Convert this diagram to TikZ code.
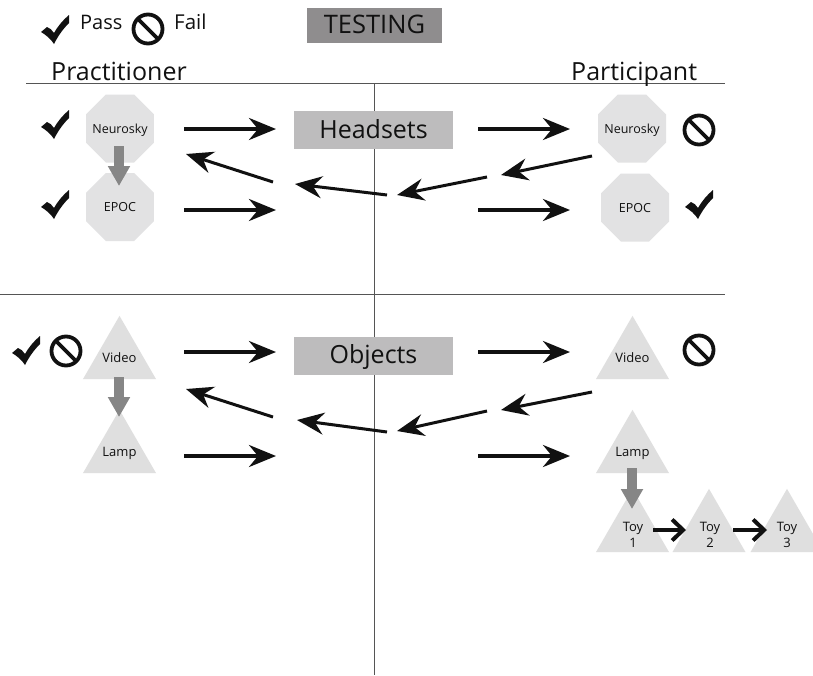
\documentclass[tikz,border=0pt]{standalone}
\usepackage{fontspec}
\setmainfont{Open Sans}
\usetikzlibrary{shapes.geometric,arrows.meta}
\definecolor{octfill}{HTML}{E2E2E3}
\definecolor{trifill}{HTML}{DFDFDF}
\definecolor{boxfill}{HTML}{BDBCBD}
\definecolor{greyarrow}{HTML}{868686}
\definecolor{testfill}{HTML}{8F8D8E}
\definecolor{rulecol}{HTML}{555555}
\definecolor{ink}{HTML}{111111}
\newcommand{\fittext}[1]{\makebox[0pt]{\raisebox{-4.5pt}[0pt][0pt]{#1}}}
\tikzset{
  x=1pt,y=-1pt,
  octa/.style={regular polygon,regular polygon sides=8,minimum size=73.6pt,inner sep=0pt,fill=octfill,font=\fontsize{12.5}{15}\selectfont,text=ink},
  tri/.style={regular polygon,regular polygon sides=3,minimum size=84.3pt,inner sep=0pt,fill=trifill,font=\fontsize{13}{15}\selectfont,text=ink},
  labelbox/.style={fill=boxfill,minimum width=159pt,inner sep=0pt,font=\fontsize{25}{30}\selectfont,text=ink},
  arr/.style={draw=ink,line width=3.8pt,-{Stealth[length=27pt,width=22pt,inset=9pt]}},
  backarr/.style={draw=ink,line width=3pt,-{Stealth[length=27pt,width=22pt,inset=9pt]}},
  smallarr/.style={draw=ink,line width=4pt,-{Straight Barb[length=11pt,width=21pt,line width=4pt]}},
  greyarr/.style={draw=greyarrow,line width=10pt,-{Triangle[length=20pt,width=21pt]}},
  rulel/.style={draw=rulecol,line width=0.8pt},
  tick/.pic={\fill[ink] (0,17) -- (6,12) .. controls (9,13) and (11,15) .. (13,18) .. controls (17,11) and (22,5) .. (28,0) -- (28,8) .. controls (22,14) and (17,21) .. (13,29) .. controls (10,24) and (5,20) .. (0,17) -- cycle;},
  nogo/.pic={\draw[ink,line width=3.8pt] (0,0) circle (14.5pt) (-10,-10) -- (10,10);},
  lab/.style={inner sep=0pt,text=ink}
}
\begin{document}
\begin{tikzpicture}
\useasboundingbox (0,0) rectangle (813,675);
\fill[white] (0,0) rectangle (813,675);
% rules
\coordinate (ruleA1) at (26,83);  \coordinate (ruleA2) at (725,83);
\coordinate (ruleB1) at (0,294);  \coordinate (ruleB2) at (725,294);
\coordinate (ruleC1) at (374,83); \coordinate (ruleC2) at (374,675);
\draw[rulel] (ruleA1) -- (ruleA2);
\draw[rulel] (ruleB1) -- (ruleB2);
\draw[rulel] (ruleC1) -- (ruleC2);
% legend
\pic at (41,15) {tick};
\node[lab,anchor=base west,font=\fontsize{20}{24}\selectfont] (pass) at (80,29) {Pass};
\pic at (148,29) {nogo};
\node[lab,anchor=base west,font=\fontsize{20.5}{24}\selectfont] (fail) at (174,29) {Fail};
\node[fill=testfill,minimum width=135pt,inner sep=0pt,text height=25pt,text depth=10pt,font=\fontsize{25.5}{30}\selectfont,text=ink] (testing) at (374.5,25.5) {TESTING};
\node[lab,anchor=base west,font=\fontsize{25}{30}\selectfont] (prac) at (51,80) {Practitioner};
\node[lab,anchor=base west,font=\fontsize{25}{30}\selectfont] (part) at (571,80) {Participant};
% boxes
\node[labelbox,text height=27pt,text depth=11pt] (headsets) at (373.5,130) {Headsets};
\node[labelbox,text height=26.5pt,text depth=11.5pt] (objects) at (373.5,355.5) {Objects};
% octagons
\node[octa] (neuP) at (120,128.5) {\fittext{Neurosky}};
\node[octa] (epocP) at (120,207) {\fittext{EPOC}};
\node[octa] (neuR) at (632,128.5) {\fittext{Neurosky}};
\node[octa] (epocR) at (635,207.5) {\fittext{EPOC}};
% triangles
\node[tri] (vidP) at (119.5,358) {\fittext{Video}};
\node[tri] (lampP) at (119.5,452) {\fittext{Lamp}};
\node[tri] (vidR) at (632.5,358) {\fittext{Video}};
\node[tri] (lampR) at (632.5,452) {\fittext{Lamp}};
\node[tri] (toyA) at (632.5,531) {};
\node[tri] (toyB) at (709,531) {};
\node[tri] (toyC) at (787,531) {};
\node[lab,align=center,font=\fontsize{13}{16}\selectfont] at (633,535) {Toy\\1};
\node[lab,align=center,font=\fontsize{13}{16}\selectfont] at (710,535) {Toy\\2};
\node[lab,align=center,font=\fontsize{13}{16}\selectfont] at (787,535) {Toy\\3};
% ticks and fails
\pic at (41,110) {tick};
\pic at (41,190) {tick};
\pic at (12,336) {tick};
\pic at (685,190) {tick};
\pic at (66,351) {nogo};
\pic at (699,130) {nogo};
\pic at (699,350) {nogo};
% grey arrows
\coordinate (g1a) at (119,146); \coordinate (g1b) at (119,186);
\coordinate (g2a) at (119,377); \coordinate (g2b) at (119,417);
\coordinate (g3a) at (632,468); \coordinate (g3b) at (632,509);
\draw[greyarr] (g1a) -- (g1b);
\draw[greyarr] (g2a) -- (g2b);
\draw[greyarr] (g3a) -- (g3b);
% headset arrows
\coordinate (a1) at (184,129); \coordinate (a2) at (276,129);
\coordinate (a3) at (478,129); \coordinate (a4) at (570,129);
\coordinate (a5) at (184,210); \coordinate (a6) at (276,210);
\coordinate (a7) at (478,210); \coordinate (a8) at (570,210);
\draw[arr] (a1) -- (a2);
\draw[arr] (a3) -- (a4);
\draw[arr] (a5) -- (a6);
\draw[arr] (a7) -- (a8);
\coordinate (b1) at (273,182); \coordinate (b2) at (186,154);
\coordinate (b3) at (387,195); \coordinate (b4) at (295,184);
\coordinate (b5) at (487,177); \coordinate (b6) at (397,195);
\coordinate (b7) at (592,156); \coordinate (b8) at (501,175);
\draw[backarr] (b1) -- (b2);
\draw[backarr] (b3) -- (b4);
\draw[backarr] (b5) -- (b6);
\draw[backarr] (b7) -- (b8);
% object arrows
\coordinate (c1) at (184,352); \coordinate (c2) at (276,352);
\coordinate (c3) at (478,352); \coordinate (c4) at (570,352);
\coordinate (c5) at (184,456); \coordinate (c6) at (276,456);
\coordinate (c7) at (478,456); \coordinate (c8) at (570,456);
\draw[arr] (c1) -- (c2);
\draw[arr] (c3) -- (c4);
\draw[arr] (c5) -- (c6);
\draw[arr] (c7) -- (c8);
\coordinate (d1) at (273,417); \coordinate (d2) at (186,389);
\coordinate (d3) at (387,432); \coordinate (d4) at (297,420);
\coordinate (d5) at (487,411); \coordinate (d6) at (397,431);
\coordinate (d7) at (592,392); \coordinate (d8) at (501,410);
\draw[backarr] (d1) -- (d2);
\draw[backarr] (d3) -- (d4);
\draw[backarr] (d5) -- (d6);
\draw[backarr] (d7) -- (d8);
% toy arrows
\coordinate (e1) at (653,530); \coordinate (e2) at (686,530);
\coordinate (e3) at (733,530); \coordinate (e4) at (767,530);
\draw[smallarr] (e1) -- (e2);
\draw[smallarr] (e3) -- (e4);
\end{tikzpicture}
\end{document}
